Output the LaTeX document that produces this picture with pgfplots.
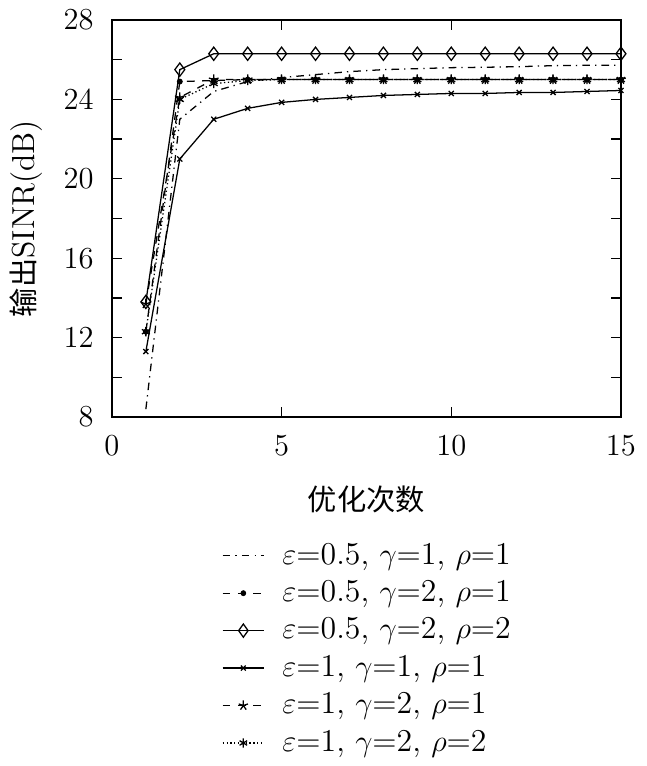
\documentclass[border=0pt]{standalone}
\usepackage{fontspec}
\newfontfamily\cjk{Noto Sans CJK SC}
\usepackage{pgfplots}
\pgfplotsset{compat=1.18}

\begin{document}
\fontsize{12}{14.4}\selectfont
\begin{tikzpicture}
\begin{axis}[
  scale only axis,
  width=200pt, height=156pt,
  xmin=0, xmax=15, ymin=8, ymax=28,
  xtick={0,5,10,15},
  ytick={8,12,...,28},
  minor ytick={10,14,...,26},
  tick align=inside,
  major tick length=4pt, minor tick length=4pt,
  tick style={black, line width=0.5pt},
  axis line style={line width=0.6pt},
  tick label style={font=\fontsize{12.5}{15}\selectfont},
  xticklabel style={yshift=-3pt},
  yticklabel style={xshift=-3pt},
  xlabel={\cjk\fontsize{11.5}{14}\selectfont 优化次数},
  ylabel={{\cjk\fontsize{11.5}{14}\selectfont 输出}SINR(dB)},
  label style={font=\fontsize{12.5}{15}\selectfont},
  xlabel style={yshift=-4pt},
  legend style={draw=none, fill=none, at={(0.505,-0.29)}, anchor=north,
    cells={anchor=west}, row sep=0.6pt, font=\fontsize{12.5}{15}\selectfont},
  legend image post style={xscale=0.95},
  every axis plot/.append style={black, line width=0.5pt},
]
\addplot[dash dot, mark=none] coordinates {
  (1,8.4) (2,23.0) (3,24.4) (4,24.9) (5,25.1) (6,25.25) (7,25.4) (8,25.5)
  (9,25.55) (10,25.6) (11,25.62) (12,25.65) (13,25.7) (14,25.72) (15,25.72)};
\addlegendentry{\hspace{5pt}$\varepsilon$=0.5, $\gamma$=1, $\rho$=1}
\addplot[dashed, mark=*, mark size=0.9pt, mark options={solid}] coordinates {
  (1,12.3) (2,24.9) (3,24.95) (4,25.0) (5,25.0) (6,25.0) (7,25.0) (8,25.0)
  (9,25.0) (10,25.0) (11,25.0) (12,25.0) (13,25.0) (14,25.0) (15,25.0)};
\addlegendentry{\hspace{5pt}$\varepsilon$=0.5, $\gamma$=2, $\rho$=1}
\addplot[solid, mark=diamond, mark size=2.6pt] coordinates {
  (1,13.8) (2,25.5) (3,26.3) (4,26.3) (5,26.3) (6,26.3) (7,26.3) (8,26.3)
  (9,26.3) (10,26.3) (11,26.3) (12,26.3) (13,26.3) (14,26.3) (15,26.3)};
\addlegendentry{\hspace{5pt}$\varepsilon$=0.5, $\gamma$=2, $\rho$=2}
\addplot[solid, mark=x, mark size=1.4pt] coordinates {
  (1,11.3) (2,21.0) (3,23.0) (4,23.55) (5,23.85) (6,24.0) (7,24.1) (8,24.2)
  (9,24.25) (10,24.3) (11,24.3) (12,24.35) (13,24.35) (14,24.4) (15,24.45)};
\addlegendentry{\hspace{5pt}$\varepsilon$=1, $\gamma$=1, $\rho$=1}
\addplot[dashed, mark=star, mark size=2pt, mark options={solid}] coordinates {
  (1,13.7) (2,24.1) (3,25.0) (4,25.0) (5,25.0) (6,25.0) (7,25.0) (8,25.0)
  (9,25.0) (10,25.0) (11,25.0) (12,25.0) (13,25.0) (14,25.0) (15,25.0)};
\addlegendentry{\hspace{5pt}$\varepsilon$=1, $\gamma$=2, $\rho$=1}
\addplot[densely dotted, mark=asterisk, mark size=1.8pt, mark options={solid}] coordinates {
  (1,12.3) (2,24.0) (3,24.8) (4,24.95) (5,25.0) (6,25.0) (7,25.0) (8,25.0)
  (9,25.0) (10,25.0) (11,25.0) (12,25.0) (13,25.0) (14,25.0) (15,25.0)};
\addlegendentry{\hspace{5pt}$\varepsilon$=1, $\gamma$=2, $\rho$=2}
\end{axis}
\end{tikzpicture}
\end{document}
